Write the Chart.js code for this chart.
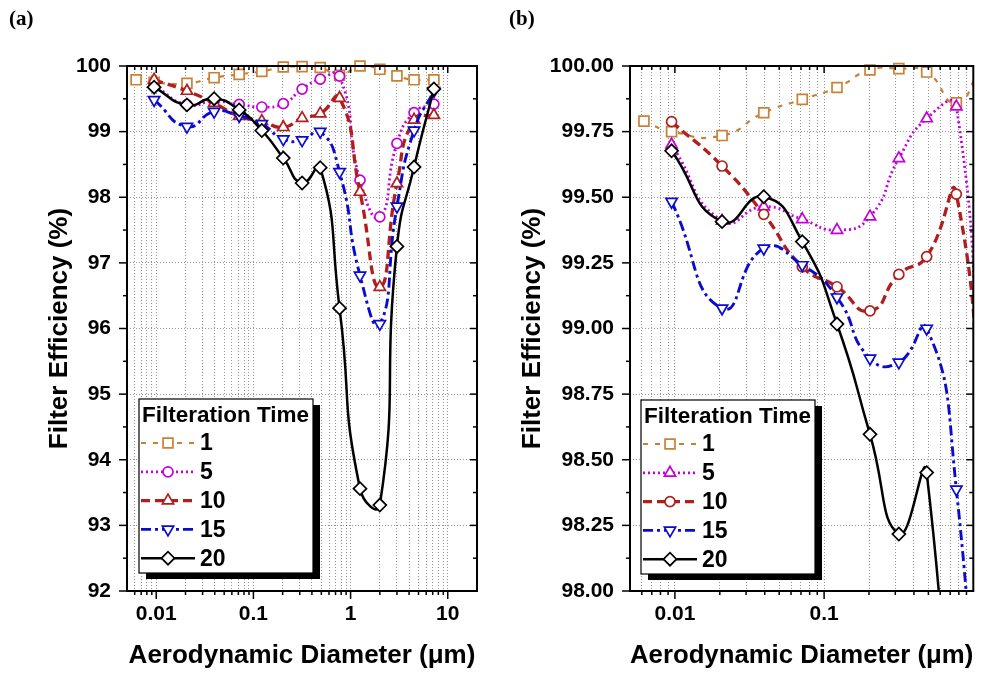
<!DOCTYPE html>
<html lang="en">
<head>
  <meta charset="UTF-8">
  <title>Filter Efficiency vs Aerodynamic Diameter</title>
  <script src="https://cdn.jsdelivr.net/npm/chart.js"></script>
  <style>
    body { margin: 0; background: #fff; width: 982px; height: 674px; position: relative; overflow: hidden; }
    .panel { position: absolute; top: 0; width: 491px; height: 674px; }
    #panelA { left: 0; }
    #panelB { left: 491px; }
    .tag { position: absolute; top: 6px; font: bold 21px "Liberation Serif", "Times New Roman", serif; }
  </style>
</head>
<body>
  <div class="panel" id="panelA"><canvas id="chartA"></canvas></div>
  <div class="panel" id="panelB"><canvas id="chartB"></canvas></div>
  <div class="tag" style="left:9px">(a)</div>
  <div class="tag" style="left:509px">(b)</div>

  <script>
    const diameter = [0.0062, 0.0095, 0.0207, 0.0394, 0.0714, 0.122, 0.203, 0.317, 0.487, 0.77, 1.25, 2.0, 3.0, 4.5, 7.2];
    const eff1  = [99.79, 99.75, 99.735, 99.822, 99.873, 99.918, 99.985, 99.99, 99.977, 99.86, 100.0, 99.95, 99.85, 99.79, 99.79];
    const eff5  = [null, 99.70, 99.41, 99.464, 99.416, 99.375, 99.426, 99.648, 99.80, 99.845, 98.26, 97.70, 98.82, 99.29, 99.42];
    const eff10 = [null, 99.788, 99.619, 99.435, 99.235, 99.159, 99.067, 99.206, 99.274, 99.512, 98.08, 96.63, 98.21, 99.18, 99.25];
    const eff15 = [null, 99.483, 99.077, 99.305, 99.242, 99.119, 98.886, 98.871, 99.0, 98.387, 96.81, 96.07, 97.86, 99.02, 99.62];
    const eff20 = [null, 99.677, 99.407, 99.502, 99.331, 99.017, 98.597, 98.217, 98.451, 96.31, 93.56, 93.31, 97.25, 98.46, 99.65];
    const timeLabels = ['1', '5', '10', '15', '20'];

    // ticks
    const xMajorA = [0.01, 0.1, 1, 10];
    const xMajorB = [0.01, 0.1, 1];
    const yTicksA = [92, 93, 94, 95, 96, 97, 98, 99, 100];
    const yTicksB = [98, 98.25, 98.5, 98.75, 99, 99.25, 99.5, 99.75, 100];

    Chart.defaults.font.family = '"Liberation Sans", Arial, sans-serif';
    Chart.defaults.font.weight = 'bold';
    Chart.defaults.color = '#000';

    const gridGray = 'rgba(0,0,0,0.42)';

    function logTicks(min, max) {
      const out = [];
      for (let e = -4; e <= 2; e++) {
        for (let m = 1; m <= 9; m++) {
          const v = Number((m * Math.pow(10, e)).toPrecision(6));
          if (v > min && v < max) out.push(v);
        }
      }
      return out;
    }

    function withMinors(majors) {
      const out = [];
      majors.forEach((v, i) => {
        out.push(v);
        if (i < majors.length - 1) out.push((v + majors[i + 1]) / 2);
      });
      return out;
    }

    function pts(vals) {
      return diameter.map((d, i) => ({ x: d, y: vals[i] })).filter(p => p.y !== null);
    }

    function buildDatasets(panel) {
      const swap = panel === 'b'; // markers for 5 and 10 are swapped in panel (b)
      const specs = [
        { vals: eff1,  color: '#C98138', dash: [5, 7],          width: 2.2, style: 'rect',     r: 7,  rot: 0 },
        { vals: eff5,  color: '#C400DA', dash: [2, 3],          width: 2.8, style: swap ? 'triangle' : 'circle', r: swap ? 6.5 : 5, rot: 0 },
        { vals: eff10, color: '#B01E1E', dash: [9, 5],          width: 3.3, style: swap ? 'circle' : 'triangle', r: swap ? 5 : 6.5, rot: 0 },
        { vals: eff15, color: '#0B0BD0', dash: [10, 4, 3, 4],   width: 2.9, style: 'triangle', r: 6.5, rot: 180 },
        { vals: eff20, color: '#000000', dash: [],              width: 2.5, style: 'rectRot',  r: 6.5, rot: 0 }
      ];
      return specs.map((s, i) => ({
        label: timeLabels[i],
        data: pts(s.vals),
        borderColor: s.color,
        borderWidth: s.width,
        borderDash: s.dash,
        pointStyle: s.style,
        pointRadius: s.r,
        pointRotation: s.rot,
        pointBorderColor: s.color,
        pointBackgroundColor: '#fff',
        pointBorderWidth: 1.7,
        tension: 0.55,
        clip: { left: 0, top: 8, right: 0, bottom: 0 },
        order: 4 - i
      }));
    }

    // frame, tick marks and the boxed legend
    const decorPlugin = {
      id: 'decor',
      afterDraw(chart, args, opts) {
        const { ctx, chartArea: a, scales: { x, y } } = chart;
        const seg = (x1, y1, x2, y2) => { ctx.beginPath(); ctx.moveTo(x1, y1); ctx.lineTo(x2, y2); ctx.stroke(); };
        ctx.save();
        ctx.setLineDash([]);
        ctx.strokeStyle = '#000';
        ctx.lineWidth = 1.5;
        x.ticks.forEach(t => {
          const px = x.getPixelForValue(t.value);
          const major = opts.xMajor.includes(t.value);
          seg(px, a.bottom, px, a.bottom + (major ? 8 : 4));
          seg(px, a.top, px, a.top + (major ? 7 : 4));
        });
        y.ticks.forEach(t => {
          const py = y.getPixelForValue(t.value);
          const major = opts.yMajor.includes(t.value);
          seg(a.left, py, a.left - (major ? 8 : 4), py);
          seg(a.right, py, a.right - (major ? 7 : 4), py);
        });
        ctx.lineWidth = 2;
        ctx.strokeRect(a.left, a.top, a.right - a.left, a.bottom - a.top);

        // legend box with drop shadow
        const L = opts.legend.left, T = opts.legend.top, W = 174, H = 174;
        ctx.fillStyle = '#000';
        ctx.fillRect(L + 7, T + 6, W, H);
        ctx.fillStyle = '#fff';
        ctx.fillRect(L, T, W, H);
        ctx.lineWidth = 1.2;
        ctx.strokeRect(L, T, W, H);
        ctx.fillStyle = '#000';
        ctx.textBaseline = 'middle';
        ctx.font = 'bold 22.5px "Liberation Sans", Arial, sans-serif';
        ctx.fillText('Filteration Time', L + 3, T + 17);
        chart.data.datasets.forEach((ds, i) => {
          const yy = T + 44 + i * 28.8;
          ctx.strokeStyle = ds.borderColor;
          ctx.lineWidth = ds.borderWidth;
          ctx.setLineDash(ds.borderDash);
          seg(L + 2, yy, L + 56, yy);
          ctx.setLineDash([]);
          ctx.lineWidth = ds.pointBorderWidth;
          ctx.fillStyle = '#fff';
          Chart.helpers.drawPoint(ctx, {
            pointStyle: ds.pointStyle, radius: ds.pointRadius,
            rotation: ds.pointRotation, borderWidth: ds.pointBorderWidth
          }, L + 29, yy);
          ctx.fillStyle = '#000';
          ctx.font = 'bold 23px "Liberation Sans", Arial, sans-serif';
          ctx.fillText(ds.label, L + 61, yy + 1);
        });
        ctx.restore();
      }
    };

    function makeChart(id, cfg) {
      const yAll = withMinors(cfg.yMajor);
      return new Chart(document.getElementById(id), {
        type: 'line',
        data: { datasets: buildDatasets(cfg.panel) },
        plugins: [decorPlugin],
        options: {
          responsive: true,
          maintainAspectRatio: false,
          animation: false,
          layout: { padding: { left: 0, top: 66, right: cfg.padRight, bottom: 0 } },
          elements: { line: { capBezierPoints: false } },
          plugins: {
            legend: { display: false },
            tooltip: { enabled: false },
            decor: { xMajor: cfg.xMajor, yMajor: cfg.yMajor, legend: cfg.legend }
          },
          scales: {
            x: {
              type: 'logarithmic',
              min: cfg.xMin,
              max: cfg.xMax,
              afterBuildTicks: s => { s.ticks = logTicks(cfg.xMin, cfg.xMax).map(v => ({ value: v })); },
              afterFit: s => { s.height = 83; },
              ticks: {
                autoSkip: false, maxRotation: 0, padding: 11, font: { size: 21 },
                callback: v => cfg.xMajor.includes(v) ? String(v) : ''
              },
              grid: { drawTicks: false, color: gridGray, lineWidth: 1 },
              border: { display: false, dash: [1, 2] },
              title: {
                display: true, text: 'Aerodynamic Diameter (μm)',
                font: { size: 26 }, padding: { top: 0, bottom: 3 }
              }
            },
            y: {
              min: cfg.yMajor[0],
              max: cfg.yMajor[cfg.yMajor.length - 1],
              afterBuildTicks: s => { s.ticks = yAll.map(v => ({ value: v })); },
              afterFit: s => { s.width = cfg.yWidth; },
              ticks: {
                autoSkip: false, padding: 16, font: { size: 21 },
                callback: v => cfg.yMajor.includes(v) ? v.toFixed(cfg.decimals) : ''
              },
              grid: {
                drawTicks: false, lineWidth: 1,
                color: c => (c.tick && cfg.yMajor.includes(c.tick.value)) ? gridGray : 'rgba(0,0,0,0)'
              },
              border: { display: false, dash: [1, 2] },
              title: {
                display: true, text: 'Filter Efficiency (%)',
                font: { size: 26 }, padding: { top: cfg.yTitlePad, bottom: 0 }
              }
            }
          }
        }
      });
    }

    makeChart('chartA', {
      panel: 'a', xMin: 0.005, xMax: 20, xMajor: xMajorA,
      yMajor: yTicksA, decimals: 0, yWidth: 127, padRight: 14, yTitlePad: 44,
      legend: { left: 139, top: 399 }
    });

    makeChart('chartB', {
      panel: 'b', xMin: 0.005, xMax: 1, xMajor: xMajorB,
      yMajor: yTicksB, decimals: 2, yWidth: 139, padRight: 4, yTitlePad: 26,
      legend: { left: 150, top: 400 }
    });
  </script>
</body>
</html>
